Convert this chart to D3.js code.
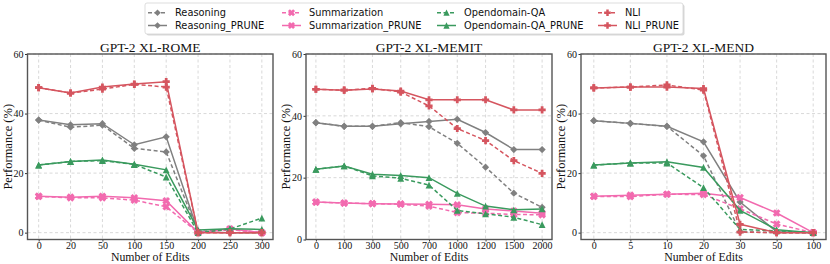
<!DOCTYPE html>
<html>
<head>
<meta charset="utf-8">
<script src="https://cdn.jsdelivr.net/npm/d3@7"></script>
<style>
body{margin:0;background:#fff;}
text{fill:#111;}
</style>
</head>
<body>
<svg id="chart" width="830" height="264"></svg>
<script>
// series names (legend order = draw order)
var seriesNames = ["Reasoning", "Reasoning_PRUNE", "Summarization", "Summarization_PRUNE",
                   "Opendomain-QA", "Opendomain-QA_PRUNE", "NLI", "NLI_PRUNE"];

// x categories of each panel
var editsRome  = ["0", "20", "50", "100", "150", "200", "250", "300"];
var editsMemit = ["0", "100", "300", "500", "700", "1000", "1200", "1500", "2000"];
var editsMend  = ["0", "5", "10", "20", "30", "50", "100"];
var yTicks = [0, 20, 40, 60];

// GPT-2 XL-ROME
var romeReasoning      = [37.8, 35.4, 36.1, 28.3, 27.1, 0.3, 1.2, 0];
var romeReasoningPrune = [37.8, 36.2, 36.6, 29.5, 32.2, 0.3, 0, 0];
var romeSumm           = [12.2, 11.7, 11.7, 10.9, 8.7, 0, 1.0, 0];
var romeSummPrune      = [12.2, 11.9, 12.2, 11.7, 10.7, 0, 1.3, 0];
var romeQA             = [22.7, 23.9, 24.2, 22.9, 18.7, 0, 1.2, 4.9];
var romeQAPrune        = [22.7, 23.9, 24.4, 23.0, 21.1, 0.9, 1.3, 1.1];
var romeNli            = [48.7, 46.9, 48.2, 49.8, 48.9, 0, 0, 0];
var romeNliPrune       = [48.7, 46.9, 48.9, 49.9, 50.7, 0, 0, 0];

// GPT-2 XL-MEMIT
var memitReasoning      = [37.8, 36.6, 36.6, 37.8, 36.5, 31.1, 23.4, 15.0, 10.4];
var memitReasoningPrune = [37.8, 36.6, 36.6, 37.4, 38.2, 38.9, 34.6, 29.1, 29.1];
var memitSumm           = [12.1, 11.8, 11.6, 11.4, 10.8, 8.7, 8.5, 8.1, 8.0];
var memitSummPrune      = [12.1, 11.8, 11.6, 11.5, 11.4, 11.2, 9.9, 9.2, 8.5];
var memitQA             = [22.7, 23.8, 20.6, 19.8, 17.6, 9.4, 8.3, 7.2, 4.8];
var memitQAPrune        = [22.7, 23.8, 21.1, 20.7, 20.0, 14.9, 10.8, 9.6, 9.9];
var memitNli            = [48.6, 48.3, 48.9, 47.7, 43.2, 35.9, 32.0, 25.5, 21.4];
var memitNliPrune       = [48.6, 48.3, 48.7, 48.0, 45.2, 45.2, 45.2, 41.9, 41.9];

// GPT-2 XL-MEND
var mendReasoning      = [37.6, 36.7, 35.7, 25.8, 0.3, 0, 0];
var mendReasoningPrune = [37.6, 36.7, 35.7, 30.5, 10.3, 0.3, 0];
var mendSumm           = [12.2, 12.1, 12.9, 12.8, 8.0, 2.9, 0];
var mendSummPrune      = [12.2, 12.6, 12.9, 13.2, 11.8, 6.6, 0];
var mendQA             = [22.7, 23.4, 23.4, 15.1, 1.1, 0.6, 0];
var mendQAPrune        = [22.7, 23.4, 23.8, 21.9, 7.5, 1.0, 0];
var mendNli            = [48.6, 48.9, 49.6, 47.9, 0.2, 0, 0];
var mendNliPrune       = [48.6, 48.9, 48.9, 48.4, 2.8, 0, 0];

// styles
var colors  = ["#808080", "#808080", "#f26aaf", "#f26aaf", "#3a9a5e", "#3a9a5e", "#d5555f", "#d5555f"];
var markers = ["diamond", "diamond", "x", "x", "tri", "tri", "plus", "plus"];
var dashed  = [true, false, true, false, true, false, true, false];

var panels = [
    {title: "GPT-2 XL-ROME",  cats: editsRome,  yMin: -2.3, left: 27.5, right: 273,
     values: [romeReasoning, romeReasoningPrune, romeSumm, romeSummPrune, romeQA, romeQAPrune, romeNli, romeNliPrune]},
    {title: "GPT-2 XL-MEMIT", cats: editsMemit, yMin: 0, left: 306, right: 552,
     values: [memitReasoning, memitReasoningPrune, memitSumm, memitSummPrune, memitQA, memitQAPrune, memitNli, memitNliPrune]},
    {title: "GPT-2 XL-MEND",  cats: editsMend,  yMin: -2.3, left: 581, right: 826,
     values: [mendReasoning, mendReasoningPrune, mendSumm, mendSummPrune, mendQA, mendQAPrune, mendNli, mendNliPrune]}
];
var plotTop = 54, plotBottom = 239.5;
var serif = "'Liberation Serif','Times New Roman',serif";

// marker shapes
function markerPath(kind, r) {
    if (kind == "diamond") {
        return "M0," + (-r) + "L" + r + ",0L0," + r + "L" + (-r) + ",0Z";
    }
    if (kind == "tri") {
        var t = r * 0.95;
        return "M0," + (-t) + "L" + t + "," + t + "L" + (-t) + "," + t + "Z";
    }
    // thick plus, rotated for x
    var w = r * 0.38;
    var pts = [[-w,-r],[w,-r],[w,-w],[r,-w],[r,w],[w,w],[w,r],[-w,r],[-w,w],[-r,w],[-r,-w],[-w,-w]];
    if (kind == "x") {
        var c = Math.SQRT1_2;
        var s = 1.1;
        pts = pts.map(function(p){ return [(p[0]-p[1])*c*s, (p[0]+p[1])*c*s]; });
    }
    return "M" + pts.map(function(p){ return p[0].toFixed(2) + "," + p[1].toFixed(2); }).join("L") + "Z";
}

var svg = d3.select("#chart");

panels.forEach(function(p) {
    var x = d3.scalePoint().domain(p.cats).range([p.left, p.right]).padding(0.35);
    var y = d3.scaleLinear().domain([p.yMin, 60]).range([plotBottom, plotTop]);
    var g = svg.append("g");

    // grid
    g.selectAll(".vg").data(p.cats).enter().append("line")
        .attr("x1", function(d){ return x(d); }).attr("x2", function(d){ return x(d); })
        .attr("y1", plotTop).attr("y2", plotBottom)
        .style("stroke", "#cfcfcf").style("stroke-width", 0.8).style("stroke-dasharray", "3,2.5");
    g.selectAll(".hg").data(yTicks).enter().append("line")
        .attr("x1", p.left).attr("x2", p.right)
        .attr("y1", function(d){ return y(d); }).attr("y2", function(d){ return y(d); })
        .style("stroke", "#cfcfcf").style("stroke-width", 0.8).style("stroke-dasharray", "3,2.5");

    // axes
    var xa = g.append("g").attr("transform", "translate(0," + plotBottom + ")")
        .call(d3.axisBottom(x).tickSize(2).tickPadding(0));
    var ya = g.append("g").attr("transform", "translate(" + p.left + ",0)")
        .call(d3.axisLeft(y).tickValues(yTicks).tickSize(2.5).tickPadding(1.5));
    [xa, ya].forEach(function(a) {
        a.attr("font-family", null).attr("font-size", null);
        a.select(".domain").remove();
        a.selectAll("line").style("stroke", "#333");
        a.selectAll("text").style("font-family", serif).style("font-size", "10px").style("fill", "#111");
    });

    // lines and markers
    var line = d3.line()
        .x(function(d, i){ return x(p.cats[i]); })
        .y(function(d){ return y(d); });
    p.values.forEach(function(vals, k) {
        g.append("path")
            .datum(vals)
            .attr("d", line)
            .style("fill", "none")
            .style("stroke", colors[k])
            .style("stroke-width", 1.5)
            .style("stroke-dasharray", dashed[k] ? "4,2.5" : null);
        g.selectAll(".m" + k).data(vals).enter().append("path")
            .attr("transform", function(d, i){ return "translate(" + x(p.cats[i]) + "," + y(d) + ")"; })
            .attr("d", markerPath(markers[k], 3.6))
            .style("fill", colors[k]);
    });

    // frame
    g.append("rect")
        .attr("x", p.left).attr("y", plotTop)
        .attr("width", p.right - p.left).attr("height", plotBottom - plotTop)
        .style("fill", "none").style("stroke", "#555").style("stroke-width", 1.4);

    // labels
    g.append("text")
        .attr("x", (p.left + p.right) / 2).attr("y", 51.5)
        .attr("text-anchor", "middle")
        .style("font-family", serif).style("font-size", "13.5px")
        .text(p.title);
    g.append("text")
        .attr("x", (p.left + p.right) / 2).attr("y", 261.2)
        .attr("text-anchor", "middle")
        .style("font-family", serif).style("font-size", "11.8px")
        .text("Number of Edits");
    g.append("text")
        .attr("transform", "translate(" + (p.left - 16) + "," + ((plotTop + plotBottom) / 2) + ") rotate(-90)")
        .attr("text-anchor", "middle")
        .style("font-family", serif).style("font-size", "12.5px")
        .text("Performance (%)");
});

// legend
var legCols = [148, 282, 437, 598];
var legRows = [12.7, 25.5];
var leg = svg.append("g");
leg.append("rect")
    .attr("x", 146.5).attr("y", 4.5).attr("width", 538).attr("height", 31)
    .attr("rx", 2)
    .style("fill", "#d8d8d8");
leg.append("rect")
    .attr("x", 145).attr("y", 3).attr("width", 538).attr("height", 31)
    .attr("rx", 2)
    .style("fill", "#fff").style("stroke", "#d4d4d4").style("stroke-width", 0.8);
seriesNames.forEach(function(name, k) {
    var cx = legCols[Math.floor(k / 2)], cy = legRows[k % 2];
    leg.append("line")
        .attr("x1", cx).attr("x2", cx + 19).attr("y1", cy).attr("y2", cy)
        .style("stroke", colors[k]).style("stroke-width", 1.5)
        .style("stroke-dasharray", dashed[k] ? "4,2.5" : null);
    leg.append("path")
        .attr("transform", "translate(" + (cx + 9.5) + "," + cy + ")")
        .attr("d", markerPath(markers[k], 3.3))
        .style("fill", colors[k]);
    leg.append("text")
        .attr("x", cx + 27).attr("y", cy + 3.7)
        .style("font-family", "'DejaVu Sans',sans-serif").style("font-size", "9.8px")
        .text(name);
});
</script>
</body>
</html>
